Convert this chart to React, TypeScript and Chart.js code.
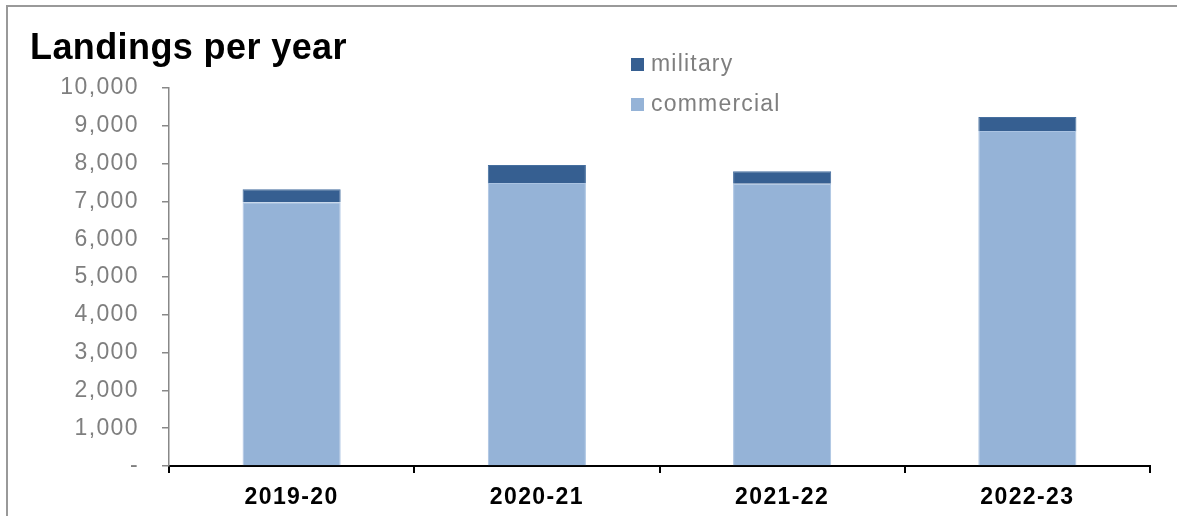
import React, { useEffect, useRef } from "react";
import { Chart, registerables } from "chart.js";

Chart.register(...registerables);

const categories = ["2019-20", "2020-21", "2021-22", "2022-23"];
const commercial = [6980, 7490, 7470, 8860];
const military = [340, 470, 330, 370];
const yTickLabels = ["-", "1,000", "2,000", "3,000", "4,000", "5,000", "6,000", "7,000", "8,000", "9,000", "10,000"];
const titleText = "Landings per year";
const seriesNames = ["military", "commercial"];

const MILITARY_COLOR = "#365F91";
const COMMERCIAL_COLOR = "#95B3D7";
const GRAY_TEXT = "#7f7f7f";
const FONT = "'Liberation Sans', Arial, sans-serif";

export default function App() {
  const canvasRef = useRef<HTMLCanvasElement | null>(null);

  useEffect(() => {
    const canvas = canvasRef.current;
    if (!canvas) return;
    const spacingPlugin = {
      id: "spacing",
      beforeDraw(chart: any) {
        (chart.ctx as any).letterSpacing = "1.4px";
      },
    };
    const chart = new Chart(canvas, {
      type: "bar",
      data: {
        labels: categories,
        datasets: [
          {
            label: seriesNames[1],
            data: commercial,
            backgroundColor: COMMERCIAL_COLOR,
            borderColor: "#aac3e2",
            borderWidth: 1,
            barPercentage: 0.4,
            categoryPercentage: 1,
          },
          {
            label: seriesNames[0],
            data: military,
            backgroundColor: MILITARY_COLOR,
            borderColor: "#466f9f",
            borderWidth: 1,
            barPercentage: 0.4,
            categoryPercentage: 1,
          },
        ],
      },
      options: {
        animation: false,
        responsive: false,
        maintainAspectRatio: false,
        layout: { padding: { top: 88, right: 27, bottom: 0, left: 0 } },
        plugins: {
          legend: { display: false },
          title: { display: false },
          tooltip: { enabled: false },
        },
        scales: {
          x: {
            stacked: true,
            grid: {
              offset: true,
              drawOnChartArea: false,
              drawTicks: true,
              tickLength: 7,
              color: "#000",
              lineWidth: 2,
            },
            border: { display: true, color: "#000", width: 2 },
            ticks: {
              color: "#000",
              font: { family: FONT, size: 23, weight: "bold" },
              padding: 11,
              maxRotation: 0,
            },
            afterFit(scale: any) {
              scale.height = 50;
            },
          },
          y: {
            stacked: true,
            min: 0,
            max: 10000,
            grid: {
              drawOnChartArea: false,
              drawTicks: true,
              tickLength: 7,
              color: "#888",
              lineWidth: 1.5,
            },
            border: { display: true, color: "#888", width: 1.5 },
            ticks: {
              stepSize: 1000,
              color: GRAY_TEXT,
              font: { family: FONT, size: 23 },
              padding: 23,
              callback: (_v: any, i: number) => yTickLabels[i],
            },
            afterFit(scale: any) {
              scale.width = 169;
            },
          },
        },
      },
      plugins: [spacingPlugin],
    } as any);
    return () => chart.destroy();
  }, []);

  const legendItems = [
    { name: seriesNames[0], color: MILITARY_COLOR, top: 58 },
    { name: seriesNames[1], color: COMMERCIAL_COLOR, top: 98 },
  ];

  return (
    <div style={{ position: "absolute", left: 0, top: 0, width: 1177, height: 516, background: "#fff", overflow: "hidden" }}>
      <canvas ref={canvasRef} width={1177} height={516} style={{ position: "absolute", left: 0, top: 0, width: 1177, height: 516 }} />
      <div style={{ position: "absolute", left: 6, top: 5, width: 1171, height: 511, borderLeft: "2px solid #999", borderTop: "2px solid #999", pointerEvents: "none" }} />
      <div style={{ position: "absolute", left: 30, top: 28.5, fontFamily: FONT, fontWeight: "bold", fontSize: 36, lineHeight: "36px", letterSpacing: "0.4px", color: "#000", whiteSpace: "nowrap" }}>
        {titleText}
      </div>
      {legendItems.map((it) => (
        <React.Fragment key={it.name}>
          <div style={{ position: "absolute", left: 631, top: it.top, width: 13, height: 13, background: it.color }} />
          <div style={{ position: "absolute", left: 651, top: it.top - 6.5, fontFamily: FONT, fontSize: 23, lineHeight: "23px", letterSpacing: "1.2px", color: GRAY_TEXT, whiteSpace: "nowrap" }}>
            {it.name}
          </div>
        </React.Fragment>
      ))}
    </div>
  );
}
